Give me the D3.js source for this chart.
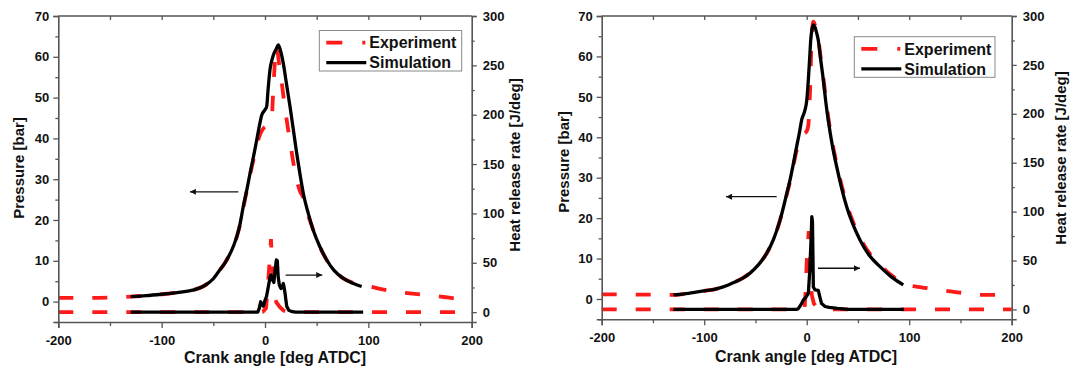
<!DOCTYPE html>
<html>
<head>
<meta charset="utf-8">
<script src="https://cdn.jsdelivr.net/npm/d3@7"></script>
<style>
  body { margin: 0; background: #fff; }
  svg text { font-family: "Liberation Sans", Arial, sans-serif; font-weight: bold; fill: #111; }
</style>
</head>
<body>
<svg id="chart" width="1071" height="366"></svg>
<script>
// ---- data (crank angle [deg ATDC], value) ----
const crankTicks = [-200, -100, 0, 100, 200];
const crankMinor = [-150, -50, 50, 150];
const pressureTicks = [0, 10, 20, 30, 40, 50, 60, 70];
const pressureMinor = [-5, 5, 15, 25, 35, 45, 55, 65];
const hrrTicks = [0, 50, 100, 150, 200, 250, 300];
const hrrMinor = [25, 75, 125, 175, 225, 275];
const legendLabels = ["Experiment", "Simulation"];

const leftSimPressure = [[-130,1.2],[-115,1.45],[-100,1.8],[-85,2.2],[-70,2.8],[-60,3.7],[-50,5.6],[-45,7.3],[-38,9.8],[-30.7,13.5],[-25,18],[-21,23.3],[-17.5,27.5],[-14.5,31.4],[-11,35.7],[-8,39.6],[-5.5,43],[-3.2,45.7],[0,47],[1.6,47.8],[3,52],[4.8,56.8],[7,59.5],[9,61],[11,62],[12.9,62.9],[15,61.5],[17.7,58.4],[21,53],[24.2,47.8],[27.5,42],[30.7,36.3],[34,31],[37.1,26.5],[42,21.5],[46.7,17.5],[53,13.5],[59.7,10.2],[67,7.6],[75.8,5.7],[85,4.5],[93.5,3.7]];
const leftExpPressure = [[-200,0.9],[-170,0.9],[-150,1.0],[-130,1.2],[-100,1.8],[-85,2.2],[-70,2.8],[-60,3.7],[-50,5.6],[-45,7.3],[-38,9.8],[-30.7,13.5],[-25,18],[-21,23],[-17.5,27.3],[-14.5,31],[-11,35],[-8,38.3],[-5,40.8],[-2,42.3],[1,43],[4,43.6],[6.5,45],[8,52],[9.5,58.5],[10.6,62.5],[12,61.5],[14,57.5],[16,54],[18.5,49],[21,44.5],[23.5,40.3],[26,36.3],[30,30.5],[34,27],[37.1,25.5],[42,21],[46.7,17.5],[53,13.5],[59.7,10.2],[67,7.6],[75.8,5.7],[85,4.6],[97,4.0],[110,3.2],[127,2.4],[145,1.9],[163,1.45],[180,0.9],[188,0.65],[200,0.6]];
const leftSimHrr = [[-130,0],[-20,0],[-7,0],[-5.5,4],[-4.2,10.5],[-3,8],[-1.6,6],[0,12],[1.5,16],[3.2,25.7],[5,36],[5.8,37.6],[7,34],[8.5,30],[9.7,42],[11,52.8],[11.9,52],[12.8,35],[14,27],[15.5,24],[17,27],[17.7,29],[18.5,25],[19.4,19],[21,6],[23,2],[26,0.5],[30,0],[95,0]];
const leftExpHrr = [[-200,0],[-10,0],[-2,0.5],[1,4],[3,30],[4.5,52],[5.8,74],[6.5,55],[7.5,45],[8.7,17],[11,10],[14.5,5],[18,1.5],[22,0],[200,0]];

const rightSimPressure = [[-130,1.0],[-115,1.4],[-100,2.0],[-90,2.4],[-81.4,3.0],[-70,4.2],[-62,5.2],[-55.3,6.4],[-47,8.5],[-39,11.3],[-32,15],[-26,19.5],[-20,25.5],[-16.3,29.4],[-13,33.5],[-9.8,37.7],[-7,41.3],[-4.9,44.3],[-1.7,46.7],[0,49],[1.6,54.2],[3,60],[3.9,64],[5,66.5],[6.5,67.8],[8,67.3],[9.5,66],[11.3,64],[13.5,59.5],[16.2,54.2],[18.5,49],[21,44.3],[25,38],[29.3,32.7],[34,27.5],[39,22.8],[45,18.5],[52,14.6],[61,10.8],[71.5,8],[82,5.6],[94.2,3.5]];
const rightExpPressure = [[-200,1.15],[-170,1.1],[-145,1.05],[-130,1.0],[-115,1.4],[-100,2.0],[-90,2.4],[-81.4,3.0],[-70,4.2],[-62,5.2],[-55.3,6.4],[-47,8.5],[-39,11.3],[-32,15],[-26,19.5],[-20,25.3],[-16.3,29],[-13,33],[-9.8,36.8],[-7,39.2],[-4.9,40.5],[-2,41],[0,41.5],[1.6,43],[3.2,51],[4.9,65],[6.5,68.6],[8,67.8],[9.5,66.3],[11.3,64.3],[13.5,60],[16.2,54.8],[18.5,50],[21,45],[25,38.7],[29.3,33.3],[34,28.2],[39,23.5],[45,19.2],[52,15.2],[61,11.4],[71.5,8.5],[82,6],[94.2,4.0],[100,3.4],[112,2.9],[123.5,2.5],[140,1.9],[155,1.4],[166,1.0],[200,1.0]];
const rightSimHrr = [[-130,0],[-10,0],[-8,1],[-5,6],[-3.3,9.6],[-1,12],[1.6,16.5],[3,40],[4.2,70],[5,94.8],[5.6,90],[6.5,23],[8,20],[11.3,19.5],[13,12],[14.5,6],[18,3],[22,2],[30,1],[40,0],[95,0]];
const rightExpHrr = [[-200,0],[-5,0],[-2,2],[-1,20],[0,48],[1,65],[2,80],[3,60],[4.9,15],[7,6],[10,2],[15,0],[200,0]];

// arrows in data units: [fromAngle, fromPressure, toAngle, toPressure]
const leftArrows = [[-25.8, 26.9, -72.6, 26.9], [20, 6.5, 55.4, 6.5]];
const rightArrows = [[-29.3, 25.3, -78.7, 25.3], [11, 7.6, 52, 7.6]];

// ---- layout ----
const panels = [
  {x0: 58.3, x1: 471.7, top: 16, bottom: 322,
   expP: leftExpPressure, simP: leftSimPressure, expH: leftExpHrr, simH: leftSimHrr, arrows: leftArrows,
   legend: {x: 319.3, y: 30.5, w: 142.4, h: 40.5},
   yTitle: {x: 24, y: 168}, hTitle: {x: 520, y: 165}, xTitle: {x: 275, y: 363}, tickY: 343},
  {x0: 601.7, x1: 1011.7, top: 16, bottom: 319.2,
   expP: rightExpPressure, simP: rightSimPressure, expH: rightExpHrr, simH: rightSimHrr, arrows: rightArrows,
   legend: {x: 854.3, y: 36.7, w: 140.7, h: 40.6},
   yTitle: {x: 569, y: 162}, hTitle: {x: 1066, y: 158}, xTitle: {x: 806, y: 362}, tickY: 342}
];

const red = "#ff1a1a", axisColor = "#555";
const dash = "15,19";
const svg = d3.select("#chart");

svg.append("defs").append("marker")
   .attr("id", "arrow").attr("viewBox", "0 0 10 10")
   .attr("refX", 10).attr("refY", 5)
   .attr("markerWidth", 10).attr("markerHeight", 6)
   .attr("markerUnits", "userSpaceOnUse")
   .attr("orient", "auto")
   .append("path").attr("d", "M0,0L10,5L0,10Z").attr("fill", "#111");

panels.forEach(p => {
  const g = svg.append("g");
  const x = d3.scaleLinear().domain([-200, 200]).range([p.x0, p.x1]);
  const yP = d3.scaleLinear().domain([-5, 70]).range([p.bottom, p.top]);
  const yH = d3.scaleLinear().domain([-10, 300]).range([p.bottom, p.top]);

  const lineP = d3.line().x(d => x(d[0])).y(d => yP(d[1])).curve(d3.curveMonotoneX);
  const lineH = d3.line().x(d => x(d[0])).y(d => yH(d[1]));

  // experiment (dashed red) under simulation (black)
  [[p.expP, lineP], [p.expH, lineH]].forEach(([data, ln]) => {
    g.append("path").datum(data).attr("d", ln)
     .attr("fill", "none").attr("stroke", red).attr("stroke-width", 3.8)
     .attr("stroke-dasharray", dash);
  });
  [[p.simP, lineP], [p.simH, lineH]].forEach(([data, ln]) => {
    g.append("path").datum(data).attr("d", ln)
     .attr("fill", "none").attr("stroke", "#000").attr("stroke-width", 3.3)
     .attr("stroke-linejoin", "round");
  });

  // axes
  const styleAxis = sel => {
    sel.select(".domain").attr("stroke", axisColor).attr("stroke-width", 1.6);
    sel.selectAll(".tick line").attr("stroke", axisColor).attr("stroke-width", 1.3);
    sel.selectAll("text").attr("fill", "#111").style("font-size", "13px")
       .style("font-family", "'Liberation Sans', Arial, sans-serif").style("font-weight", "bold");
  };

  g.append("g").attr("transform", `translate(0,${p.bottom})`)
   .call(d3.axisBottom(x).tickValues(crankTicks).tickSize(6).tickPadding(8).tickFormat(String))
   .call(styleAxis);
  g.append("g").attr("transform", `translate(0,${p.bottom})`)
   .call(d3.axisBottom(x).tickValues(crankMinor).tickSize(4).tickFormat(""))
   .call(styleAxis).select(".domain").remove();
  g.append("g").attr("transform", `translate(0,${p.top})`)
   .call(d3.axisBottom(x).tickValues(crankMinor.concat(crankTicks.slice(1, -1))).tickSize(4).tickFormat(""))
   .call(styleAxis).select(".domain").attr("d", `M${p.x0},0H${p.x1}`);

  g.append("g").attr("transform", `translate(${p.x0},0)`)
   .call(d3.axisLeft(yP).tickValues(pressureTicks).tickSize(5).tickPadding(4).tickFormat(String))
   .call(styleAxis);
  g.append("g").attr("transform", `translate(${p.x0},0)`)
   .call(d3.axisLeft(yP).tickValues(pressureMinor).tickSize(3).tickFormat(""))
   .call(styleAxis).select(".domain").remove();

  g.append("g").attr("transform", `translate(${p.x1},0)`)
   .call(d3.axisRight(yH).tickValues(hrrTicks).tickSize(5).tickPadding(6).tickFormat(String))
   .call(styleAxis);
  g.append("g").attr("transform", `translate(${p.x1},0)`)
   .call(d3.axisRight(yH).tickValues(hrrMinor).tickSize(3).tickFormat(""))
   .call(styleAxis).select(".domain").remove();

  // axis titles
  g.append("text").attr("x", p.xTitle.x).attr("y", p.xTitle.y)
   .attr("text-anchor", "middle").style("font-size", "16px").text("Crank angle [deg ATDC]");
  g.append("text").attr("transform", `translate(${p.yTitle.x},${p.yTitle.y}) rotate(-90)`)
   .attr("text-anchor", "middle").style("font-size", "15px").text("Pressure [bar]");
  g.append("text").attr("transform", `translate(${p.hTitle.x},${p.hTitle.y}) rotate(-90)`)
   .attr("text-anchor", "middle").style("font-size", "15px").text("Heat release rate [J/deg]");

  // arrows
  p.arrows.forEach(a => {
    g.append("line")
     .attr("x1", x(a[0])).attr("y1", yP(a[1]))
     .attr("x2", x(a[2])).attr("y2", yP(a[3]))
     .attr("stroke", "#111").attr("stroke-width", 1.3)
     .attr("marker-end", "url(#arrow)");
  });

  // legend
  const L = p.legend;
  const lg = g.append("g").attr("transform", `translate(${L.x},${L.y})`);
  lg.append("rect").attr("width", L.w).attr("height", L.h)
    .attr("fill", "#fff").attr("stroke", "#888").attr("stroke-width", 1);
  lg.append("line").attr("x1", 7).attr("x2", 46).attr("y1", 12.2).attr("y2", 12.2)
    .attr("stroke", red).attr("stroke-width", 3.8).attr("stroke-dasharray", "16,20");
  lg.append("line").attr("x1", 7).attr("x2", 47).attr("y1", 32.2).attr("y2", 32.2)
    .attr("stroke", "#000").attr("stroke-width", 3.3);
  legendLabels.forEach((t, i) => {
    lg.append("text").attr("x", 50).attr("y", 12.2 + i * 20).attr("dy", "0.36em")
      .style("font-size", "16px").text(t);
  });
});
</script>
</body>
</html>
